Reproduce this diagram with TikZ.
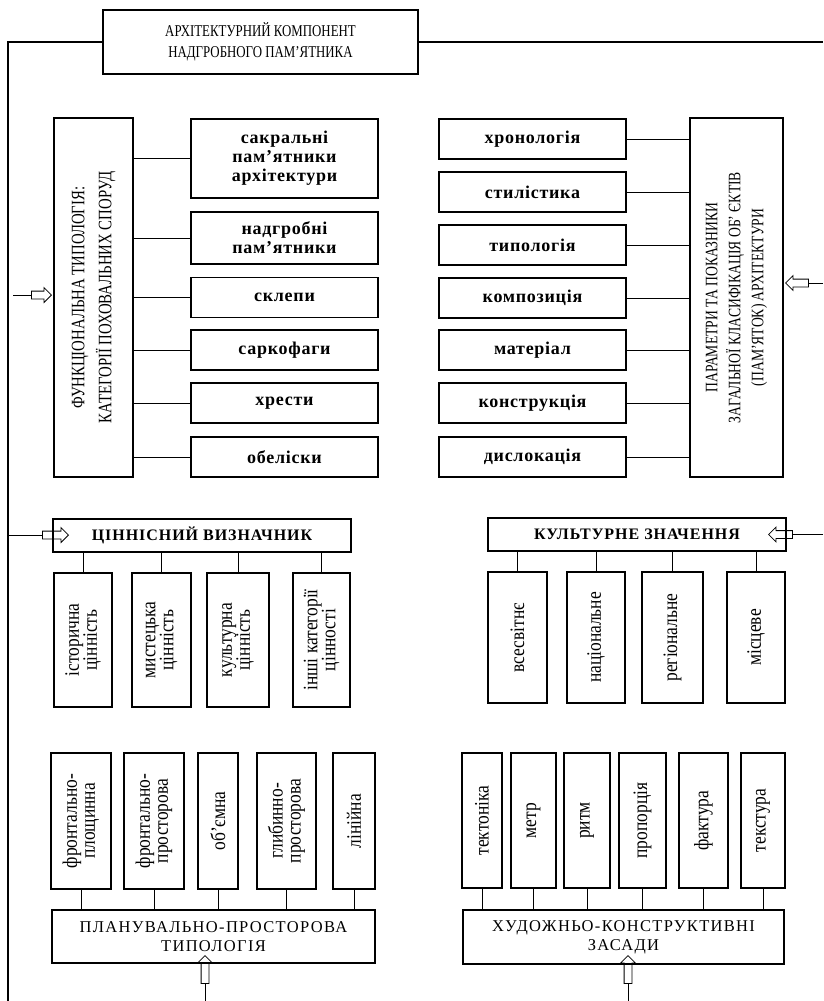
\documentclass[tikz,border=0pt]{standalone}
\usepackage{fontspec}
\setmainfont{Liberation Serif}
\newfontfamily\narrowfont[FakeStretch=0.78]{Liberation Serif}
\newfontfamily\slimfont[FakeStretch=0.85]{Liberation Serif}
\usetikzlibrary{shapes.arrows}

\begin{document}
\begin{tikzpicture}[x=1pt,y=-1pt,
  boxstyle/.style={draw,line width=1.5pt,inner sep=0,align=center},
  itemstyle/.style={boxstyle,minimum width=187,font=\bfseries\fontsize{18}{19}\selectfont\addfontfeature{LetterSpace=4}},
  vertstyle/.style={boxstyle,rotate=90,font=\slimfont\fontsize{20.5}{18}\selectfont},
  capstyle/.style={boxstyle,minimum height=33,font=\bfseries\fontsize{16}{17}\selectfont\addfontfeature{LetterSpace=6}},
  basestyle/.style={boxstyle,font=\fontsize{16.5}{19}\selectfont\addfontfeature{LetterSpace=8}},
  link/.style={line width=0.8pt},
  frame/.style={line width=1.1pt},
  hollow/.style={single arrow,draw,line width=0.8pt,inner sep=3.5pt,single arrow head extend=3.5pt}]
  \useasboundingbox (0,0) rectangle (823,1001);

  % title and frame
  \node[boxstyle,minimum width=315,minimum height=64,font=\narrowfont\fontsize{16.5}{21}\selectfont] (title) at (260.5,42)
    {АРХІТЕКТУРНИЙ КОМПОНЕНТ\\НАДГРОБНОГО ПАМ’ЯТНИКА};
  \coordinate (fl) at (8,1001);
  \coordinate (fr) at (823,40);
  \draw[frame] (title.west) -| (fl);
  \draw[frame] (title.east) -- (title.east -| fr);

  % left column
  \node[boxstyle,rotate=90,minimum width=359,minimum height=79,font=\narrowfont\fontsize{19}{27}\selectfont] (funk) at (93.5,297.5)
    {ФУНКЦІОНАЛЬНА ТИПОЛОГІЯ:\\КАТЕГОРІЇ ПОХОВАЛЬНИХ СПОРУД};
  \foreach \n/\yy/\hh/\txt in {1/158.5/79/{сакральні\\пам’ятники\\архітектури},2/238/52/{надгробні\\пам’ятники},
      3/297.5/40/склепи,4/350/40/саркофаги,5/403/40/хрести,6/457/40/обеліски}
    {\node[itemstyle,minimum height=\hh] (f\n) at (284.5,\yy) {\txt};
     \draw[link] (f\n.west) -- (f\n.west -| funk.south);}

  % right column
  \node[boxstyle,rotate=90,minimum width=359,minimum height=93,font=\narrowfont\fontsize{17.5}{23}\selectfont] (param) at (736.5,297.5)
    {ПАРАМЕТРИ ТА ПОКАЗНИКИ\\ЗАГАЛЬНОЇ КЛАСИФІКАЦІЯ ОБ’ ЄКТІВ\\(ПАМ’ЯТОК) АРХІТЕКТУРИ};
  \foreach \n/\yy/\txt in {1/139/хронологія,2/192/стилістика,3/245/типологія,4/298/композиція,
      5/350/матеріал,6/403/конструкція,7/457/дислокація}
    {\node[itemstyle,minimum height=40] (p\n) at (532.5,\yy) {\txt};
     \draw[link] (p\n.east) -- (p\n.east -| param.north);}

  \coordinate (aL) at (13,295);
  \node[hollow,minimum height=20,anchor=tip] (arL) at (52,295) {};
  \draw[link] (aL) -- (arL.tail);
  \coordinate (aR) at (823,283);
  \node[hollow,shape border rotate=180,minimum height=23,anchor=tip] (arR) at (785,283) {};
  \draw[link] (aR) -- (arR.tail);

  % value and significance
  \node[capstyle,minimum width=298] (val) at (202,535.5) {ЦІННІСНИЙ ВИЗНАЧНИК};
  \foreach \n/\xx/\ww/\txt in {1/83/58/{історична\\цінність},2/161.5/59/{мистецька\\цінність},
      3/238/62/{культурна\\цінність},4/321.5/57/{інші категорії\\цінності}}
    {\node[vertstyle,minimum width=134,minimum height=\ww] (v\n) at (\xx,640) {\txt};
     \draw[link] (v\n.east) -- (v\n.east |- val.south);}

  \node[capstyle,minimum width=298] (cult) at (637,534.5) {КУЛЬТУРНЕ ЗНАЧЕННЯ};
  \foreach \n/\xx/\ww/\txt in {1/517.5/59/всесвітнє,2/596/58/національне,3/672.5/61/регіональне,4/756/58/місцеве}
    {\node[vertstyle,minimum width=131,minimum height=\ww] (c\n) at (\xx,637.5) {\txt};
     \draw[link] (c\n.east) -- (c\n.east |- cult.south);}

  \coordinate (aV) at (8,535);
  \node[hollow,minimum height=26,anchor=tip] (arV) at (69,535) {};
  \draw[link] (aV) -- (arV.tail);
  \coordinate (aC) at (823,534.5);
  \node[hollow,shape border rotate=180,minimum height=24,anchor=tip] (arC) at (768,534.5) {};
  \draw[link] (aC) -- (arC.tail);

  % bottom rows
  \node[basestyle,minimum width=323,minimum height=53] (plan) at (213.5,936.5) {ПЛАНУВАЛЬНО-ПРОСТОРОВА\\ТИПОЛОГІЯ};
  \foreach \n/\xx/\ww/\txt in {1/81/60/{фронтально-\\площинна},2/154/60/{фронтально-\\просторова},3/218/40/об’ємна,
      4/286.5/59/{глибинно-\\просторова},5/354/42/лінійна}
    {\node[vertstyle,minimum width=136,minimum height=\ww] (b\n) at (\xx,821) {\txt};
     \draw[link] (b\n.west) -- (b\n.west |- plan.north);}

  \node[basestyle,minimum width=321,minimum height=54] (art) at (623.5,937) {ХУДОЖНЬО-КОНСТРУКТИВНІ\\ЗАСАДИ};
  \foreach \n/\xx/\ww/\txt in {1/482/40/тектоніка,2/533.5/45/метр,3/587/46/ритм,4/642.5/47/пропорція,
      5/703.5/49/фактура,6/763/44/текстура}
    {\node[vertstyle,minimum width=135,minimum height=\ww] (r\n) at (\xx,820.5) {\txt};
     \draw[link] (r\n.west) -- (r\n.west |- art.north);}

  \coordinate (aP) at (205,1001);
  \node[hollow,shape border rotate=90,minimum height=28,anchor=tip] (arP) at (205,955) {};
  \draw[link] (aP) -- (arP.tail);
  \coordinate (aA) at (628,1001);
  \node[hollow,shape border rotate=90,minimum height=28,anchor=tip] (arA) at (628,955) {};
  \draw[link] (aA) -- (arA.tail);

\end{tikzpicture}
\end{document}
